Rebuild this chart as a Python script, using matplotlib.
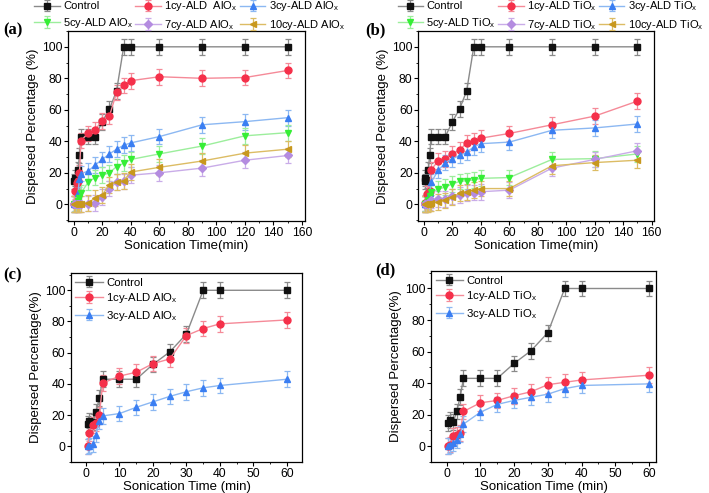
import matplotlib.pyplot as plt
from matplotlib.ticker import AutoMinorLocator

plt.rcParams['font.family'] = ['Liberation Sans', 'DejaVu Sans']

# sonication time (min)
t_long = [0.5, 1, 2, 3, 4, 5, 10, 15, 20, 25, 30, 35, 40, 60, 90, 120, 150]

control = [14.5, 16.5, 15.5, 22, 31, 43, 43, 43, 52.5, 60.5, 72, 100, 100, 100, 100, 100, 100]

alox_1 = [0, 8.5, 13.5, 15, 20, 40.5, 45, 47.5, 53, 56, 71, 75.5, 78.5, 81, 80, 80.5, 85]
alox_3 = [0, 0.5, 1.5, 7.5, 16, 19.5, 21, 25, 28.5, 32, 35, 37.5, 39, 43, 50.5, 52.5, 55]
alox_5 = [0, 0.5, 1, 2, 4, 7, 14, 17, 18.5, 20, 24, 26, 28.5, 32, 37, 43.5, 45.5]
alox_7 = [0, 0, 0, 0, 0, 0, 0.5, 1, 4.5, 10, 14, 14.5, 18.5, 20, 23, 28, 31]
alox_10 = [0, 0, 0, 0, 0, 0, 1, 4, 6, 12.5, 14, 15, 20.5, 23.5, 27.5, 32.5, 35]

tiox_1 = [0, 1, 6.5, 7, 8.5, 22, 27.5, 29, 32, 34.5, 39, 40.5, 42, 45, 50.5, 56, 65.5]
tiox_3 = [0, 0.5, 2, 4, 7.5, 14, 21.5, 26.5, 29, 31, 33, 36.5, 38.5, 39.5, 47, 48.5, 51]
tiox_5 = [0, 0.5, 1, 3, 5, 8, 9.5, 11, 13, 14.5, 15, 15.5, 16.5, 17, 28.5, 29, 32]
tiox_7 = [0, 0, 0.5, 1, 1.5, 2.5, 3.5, 3.5, 5, 6, 7, 7.5, 8, 9, 23, 28.5, 34]
tiox_10 = [0, 0, 0, 0, 0.5, 1, 1.5, 2.5, 4.5, 7, 8, 9, 10, 10, 24.5, 26.5, 28]

err = 5
n_short = 14  # points up to 60 min for (c) and (d)

styles = {
    'Control': dict(marker='s', mc='#111111', lc='#8a8a8a'),
    '1cy': dict(marker='o', mc='#f5304a', lc='#f58a98'),
    '3cy': dict(marker='^', mc='#3a7ef2', lc='#8cb8f2'),
    '5cy': dict(marker='v', mc='#36ee36', lc='#9cee9c'),
    '7cy': dict(marker='D', mc='#b48ce0', lc='#c9ace8'),
    '10cy': dict(marker='<', mc='#c8981e', lc='#dcbc64'),
}


def draw(ax, t, y, key, label, ms=5):
    s = styles[key]
    msz = ms - 1 if s['marker'] == 'D' else ms
    ax.errorbar(t, y, yerr=err, color=s['lc'], ecolor=s['lc'], elinewidth=0.9,
                capsize=2, capthick=0.9, lw=1, marker=s['marker'], ms=msz,
                mfc=s['mc'], mec=s['mc'], label=label)


def style_axes(ax, xlab, ylab, xlim, xticks):
    ax.set_xlim(*xlim)
    ax.set_xticks(xticks)
    ax.set_yticks([0, 20, 40, 60, 80, 100])
    ax.xaxis.set_minor_locator(AutoMinorLocator(2))
    ax.yaxis.set_minor_locator(AutoMinorLocator(2))
    ax.tick_params(which='major', direction='out', length=2.6, pad=1.5, labelsize=8.8)
    ax.tick_params(which='minor', direction='out', length=1.5)
    ax.set_xlabel(xlab, fontsize=9.5, labelpad=1)
    ax.set_ylabel(ylab, fontsize=9.5, labelpad=2)
    for sp in ax.spines.values():
        sp.set_linewidth(0.9)


fig = plt.figure(figsize=(7.09, 4.93), dpi=100)
ax_a = fig.add_axes([0.096, 0.552, 0.334, 0.385])
ax_b = fig.add_axes([0.590, 0.552, 0.333, 0.385])
ax_c = fig.add_axes([0.100, 0.063, 0.326, 0.383])
ax_d = fig.add_axes([0.608, 0.063, 0.317, 0.387])

# (a) and (b): all coatings
for ax, mat, series, lx in [
    (ax_a, 'AlO', [alox_1, alox_3, alox_5, alox_7, alox_10], 0.513),
    (ax_b, 'TiO', [tiox_1, tiox_3, tiox_5, tiox_7, tiox_10], 0.56),
]:
    keys = ['1cy', '3cy', '5cy', '7cy', '10cy']
    draw(ax, t_long, control, 'Control', 'Control')
    for k, y in zip(keys, series):
        gap = '  ' if (k == '1cy' and mat == 'AlO') else ' '
        draw(ax, t_long, y, k, k + '-ALD' + gap + mat + '$_\\mathregular{x}$')
    style_axes(ax, 'Sonication Time(min)', 'Dispersed Percentage (%)',
               (-4, 162), range(0, 161, 20))
    ax.set_ylim(-10.5, 110)
    h, l = ax.get_legend_handles_labels()
    order = [0, 3, 1, 4, 2, 5]
    ax.legend([h[i] for i in order], [l[i] for i in order], ncol=3,
              loc='lower center', bbox_to_anchor=(lx, 0.99), frameon=False,
              fontsize=8, handlelength=2.3, handletextpad=0.3,
              columnspacing=0.2, labelspacing=0.4, borderaxespad=0,
              borderpad=0.1)

# (c) and (d): first 60 min
for ax, mat, s1, s3 in [
    (ax_c, 'AlO', alox_1, alox_3),
    (ax_d, 'TiO', tiox_1, tiox_3),
]:
    t = t_long[:n_short]
    draw(ax, t, control[:n_short], 'Control', 'Control')
    draw(ax, t, s1[:n_short], '1cy', '1cy-ALD ' + mat + '$_\\mathregular{x}$')
    draw(ax, t, s3[:n_short], '3cy', '3cy-ALD ' + mat + '$_\\mathregular{x}$')
    style_axes(ax, 'Sonication Time (min)', 'Dispersed Percentage(%)',
               (-4.5, 64.5) if ax is ax_c else (-4.6, 62), range(0, 61, 10))
    ax.set_ylim(-10, 111)
    ax.legend(loc='upper left', frameon=False, fontsize=8.2, handlelength=2.4,
              handletextpad=0.3, labelspacing=0.3, borderaxespad=0.3,
              borderpad=0.1)

for lab, x, y in [('(a)', 0.004, 0.939), ('(b)', 0.515, 0.939),
                  ('(c)', 0.004, 0.442), ('(d)', 0.529, 0.452)]:
    fig.text(x, y, lab, fontsize=12, fontweight='bold',
             family=['Liberation Serif', 'DejaVu Serif'], va='center')

fig.savefig('out.png', dpi=100)
